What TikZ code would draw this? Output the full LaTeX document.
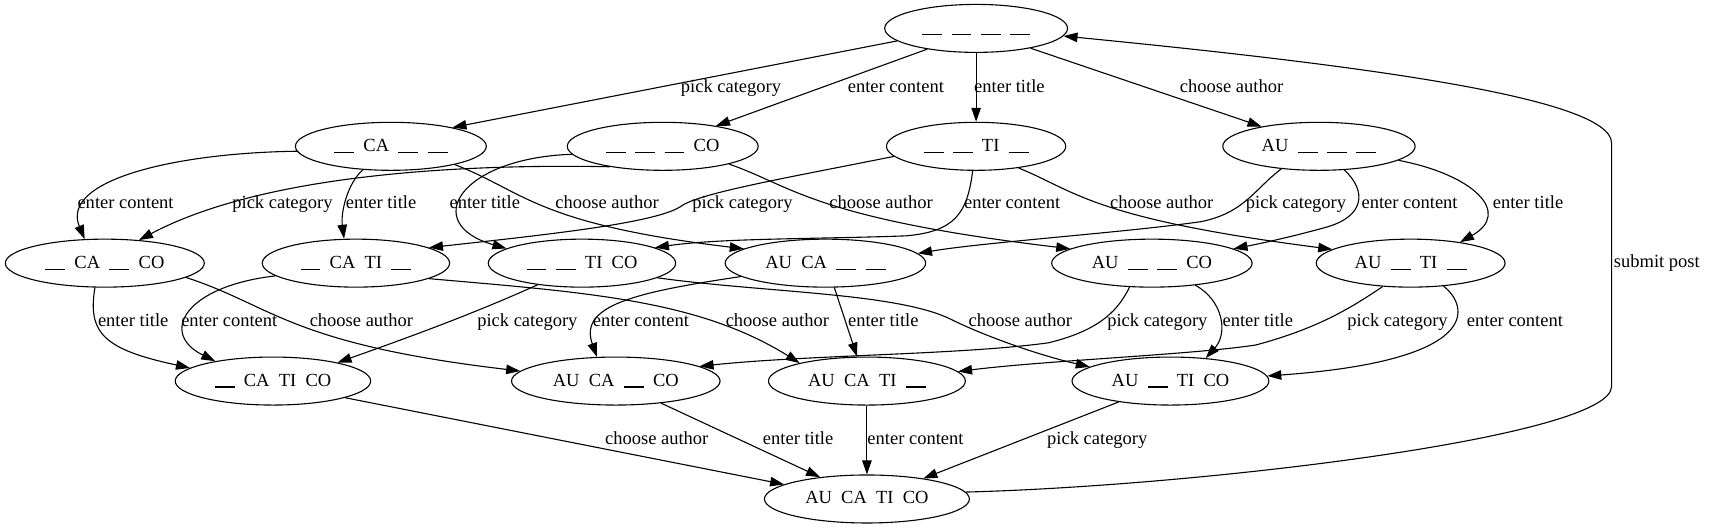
\documentclass[tikz,border=0pt]{standalone}
\usepackage{fontspec}
\setmainfont{Liberation Serif}
\usetikzlibrary{arrows.meta,shapes.geometric}
\newcommand\blk{\rule[-0.1em]{1.08em}{0.08em}}
\newcommand\gp{\hspace{0.5em}}
\begin{document}
\begin{tikzpicture}[x=1.0918pt,y=-1.0918pt,
  st/.style={draw, ellipse, line width=1.1pt, minimum height=48pt, inner xsep=10.8pt, inner ysep=1pt, text height=12.6pt, text depth=2.6pt, font=\fontsize{18.5}{22}\selectfont},
  lb/.style={inner sep=0pt, text height=13pt, text depth=3.7pt, font=\fontsize{18.5}{22}\selectfont},
  ed/.style={line width=1.1pt, -{Triangle[length=14pt,width=9.5pt]}}]
\useasboundingbox (0,0) rectangle (1568,484);
% nodes
\node[st] (T) at (894,26) {\blk\gp\blk\gp\blk\gp\blk};
\node[st] (C) at (358,134) {\blk\gp CA\gp\blk\gp\blk};
\node[st] (O) at (607,134) {\blk\gp\blk\gp\blk\gp CO};
\node[st] (Ti) at (894,134) {\blk\gp\blk\gp TI\gp\blk};
\node[st] (A) at (1208,134) {AU\gp\blk\gp\blk\gp\blk};
\node[st] (cco) at (96,241) {\blk\gp CA\gp\blk\gp CO};
\node[st] (cti) at (326,241) {\blk\gp CA\gp TI\gp\blk};
\node[st] (tico) at (533,241) {\blk\gp\blk\gp TI\gp CO};
\node[st] (aca) at (756,241) {AU\gp CA\gp\blk\gp\blk};
\node[st] (aco) at (1055,241) {AU\gp\blk\gp\blk\gp CO};
\node[st] (ati) at (1292,241) {AU\gp\blk\gp TI\gp\blk};
\node[st] (ctico) at (250,349) {\blk\gp CA\gp TI\gp CO};
\node[st] (acaco) at (564,349) {AU\gp CA\gp\blk\gp CO};
\node[st] (acati) at (794,349) {AU\gp CA\gp TI\gp\blk};
\node[st] (atico) at (1072,349) {AU\gp\blk\gp TI\gp CO};
\node[st] (all) at (794,457) {AU\gp CA\gp TI\gp CO};
% row 1 -> 2
\draw[ed] (T.189) -- (C.17);
\draw[ed] (T.203) -- (O.21);
\draw[ed] (T) -- (Ti);
\draw[ed] (T.-20) -- (A.161);
% row 2 -> 3
\draw[ed] (C.183) .. controls (160,140) and (55,165) .. (cco.130);
\draw[ed] (C.220) .. controls (318,168) and (312,195) .. (cti.116);
\draw[ed] (C.-16) .. controls (480,175) and (490,205) .. (aca.170);
\draw[ed] (O.201) .. controls (420,150) and (240,160) .. (cco.34);
\draw[ed] (O.185) .. controls (420,145) and (385,205) .. (tico.169);
\draw[ed] (O.-15) .. controls (725,170) and (745,200) .. (aco.170);
\draw[ed] (Ti.187) .. controls (720,163) and (645,176) .. (625,188) .. controls (605,204) and (500,215) .. (cti.12);
\draw[ed] (Ti.262) .. controls (886,195) and (875,212) .. (830,216) .. controls (750,219) and (660,218) .. (tico.12);
\draw[ed] (Ti.-27) .. controls (985,175) and (1000,200) .. (ati.170);
\draw[ed] (A.211) .. controls (1150,172) and (1140,195) .. (1100,203) .. controls (1030,213) and (900,222) .. (aca.6);
\draw[ed] (A.-43) .. controls (1252,175) and (1250,198) .. (1215,208) .. controls (1190,215) and (1160,222) .. (aco.10);
\draw[ed] (A.-10) .. controls (1350,160) and (1385,195) .. (ati.23);
% row 3 -> 4
\draw[ed] (cco.248) .. controls (80,305) and (95,320) .. (ctico.171);
\draw[ed] (cco.-10) .. controls (250,280) and (265,315) .. (acaco.174);
\draw[ed] (cti.189) .. controls (170,262) and (145,305) .. (ctico.161);
\draw[ed] (cti.-12) .. controls (540,268) and (640,275) .. (acati.165);
\draw[ed] (tico.206) .. controls (450,280) and (400,300) .. (ctico.16);
\draw[ed] (tico.-11) .. controls (700,268) and (820,268) .. (870,292) .. controls (900,307) and (950,325) .. (atico.170);
\draw[ed] (aca.189) .. controls (580,268) and (530,280) .. (acaco.128);
\draw[ed] (aca.-70) -- (acati.112);
\draw[ed] (aco.227) .. controls (1025,282) and (1010,302) .. (960,314) .. controls (880,325) and (740,325) .. (acaco.10);
\draw[ed] (aco.-27) .. controls (1120,275) and (1125,305) .. (atico.33);
\draw[ed] (ati.220) .. controls (1240,280) and (1210,300) .. (1150,316) .. controls (1090,325) and (960,330) .. (acati.6);
\draw[ed] (ati.-35) .. controls (1345,280) and (1360,330) .. (atico.3);
% row 4 -> 5
\draw[ed] (ctico.-13) -- (all.170);
\draw[ed] (acaco.-26) -- (all.155);
\draw[ed] (acati) -- (all);
\draw[ed] (atico.202) -- (all.20);
% back edge
\draw[ed] (all.4) .. controls (1100,445) and (1476,400) .. (1476,354) -- (1476,131) .. controls (1476,90) and (1250,60) .. (T.-5);
% labels
\node[lb] at (669.5,80) {pick category};
\node[lb] at (820.5,80) {enter content};
\node[lb] at (924.5,80) {enter title};
\node[lb] at (1128,80) {choose author};
\node[lb] at (115,187) {enter content};
\node[lb] at (258.7,187) {pick category};
\node[lb] at (349,187) {enter title};
\node[lb] at (444,187) {enter title};
\node[lb] at (556,187) {choose author};
\node[lb] at (680,187) {pick category};
\node[lb] at (807,187) {choose author};
\node[lb] at (927,187) {enter content};
\node[lb] at (1064,187) {choose author};
\node[lb] at (1187,187) {pick category};
\node[lb] at (1291,187) {enter content};
\node[lb] at (1399.5,187) {enter title};
\node[lb] at (122,295) {enter title};
\node[lb] at (210,295) {enter content};
\node[lb] at (331,295) {choose author};
\node[lb] at (483,295) {pick category};
\node[lb] at (587,295) {enter content};
\node[lb] at (712,295) {choose author};
\node[lb] at (809,295) {enter title};
\node[lb] at (934.5,295) {choose author};
\node[lb] at (1060,295) {pick category};
\node[lb] at (1152,295) {enter title};
\node[lb] at (1280,295) {pick category};
\node[lb] at (1387.5,295) {enter content};
\node[lb] at (601.5,403) {choose author};
\node[lb] at (731,403) {enter title};
\node[lb] at (838.5,403) {enter content};
\node[lb] at (1005,403) {pick category};
\node[lb, anchor=west] at (1478,241) {submit post};
\end{tikzpicture}
\end{document}
